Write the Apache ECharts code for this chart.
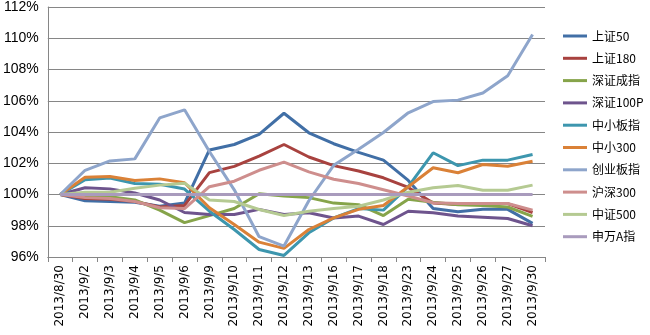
<!DOCTYPE html>
<html>
<head>
<meta charset="utf-8">
<script src="https://cdn.jsdelivr.net/npm/echarts@6/dist/echarts.min.js"></script>
<style>html,body{margin:0;padding:0;background:#fff;}#c{width:650px;height:335px;}</style>
</head>
<body>
<div id="c"></div>
<script>
const categories = ['2013/8/30','2013/9/2','2013/9/3','2013/9/4','2013/9/5','2013/9/6','2013/9/9','2013/9/10','2013/9/11','2013/9/12','2013/9/13','2013/9/16','2013/9/17','2013/9/18','2013/9/23','2013/9/24','2013/9/25','2013/9/26','2013/9/27','2013/9/30'];
const yTicks = { min: 96, max: 112, interval: 2 };
const sz50   = [100, 99.6, 99.55, 99.5, 99.25, 99.45, 102.85, 103.2, 103.85, 105.2, 103.95, 103.25, 102.7, 102.2, 100.9, 99.1, 98.9, 99.05, 99.05, 98.15];
const sz180  = [100, 99.75, 99.7, 99.55, 99.2, 99.3, 101.4, 101.8, 102.45, 103.2, 102.4, 101.85, 101.5, 101.07, 100.45, 99.45, 99.36, 99.42, 99.42, 98.85];
const szcz   = [100, 99.9, 99.85, 99.65, 99.0, 98.2, 98.65, 99.1, 100.05, 99.9, 99.8, 99.45, 99.35, 98.65, 99.7, 99.5, 99.35, 99.3, 99.2, 98.6];
const sz100p = [100, 100.43, 100.36, 100.1, 99.65, 98.85, 98.72, 98.72, 99.05, 98.72, 98.83, 98.5, 98.62, 98.08, 98.93, 98.83, 98.62, 98.55, 98.46, 98.0];
const zxb    = [100, 100.95, 101.05, 100.7, 100.65, 100.35, 98.93, 97.76, 96.48, 96.1, 97.55, 98.5, 99.1, 99.0, 100.5, 102.67, 101.85, 102.2, 102.2, 102.56];
const zx300  = [100, 101.1, 101.15, 100.9, 101.0, 100.75, 99.15, 98.08, 96.95, 96.55, 97.76, 98.5, 99.05, 99.3, 100.5, 101.71, 101.39, 101.92, 101.81, 102.13];
const cyb    = [100, 101.55, 102.15, 102.28, 104.9, 105.42, 102.75, 100.3, 97.3, 96.7, 99.6, 101.87, 102.9, 103.97, 105.23, 105.95, 106.04, 106.5, 107.6, 110.24];
const hs300  = [100, 99.8, 99.75, 99.55, 99.15, 99.1, 100.5, 100.85, 101.55, 102.07, 101.45, 100.98, 100.7, 100.3, 99.9, 99.47, 99.42, 99.42, 99.42, 99.0];
const zz500  = [100, 100.15, 100.15, 100.4, 100.6, 100.72, 99.65, 99.55, 99.04, 98.66, 98.93, 99.1, 99.25, 99.65, 100.15, 100.43, 100.58, 100.27, 100.27, 100.6];
const swa    = [100, 100, 100, 100, 100, 100, 100, 100, 100, 100, 100, 100, 100, 100, 100, 100, 100, 100, 100, 100];
const seriesNames = ['上证50','上证180','深证成指','深证100P','中小板指','中小300','创业板指','沪深300','中证500','申万A指'];
const seriesData = [sz50, sz180, szcz, sz100p, zxb, zx300, cyb, hs300, zz500, swa];
const colors = ['#416FA6','#A8423F','#86A44A','#6E548D','#3D96AE','#DA8137','#8EA5CB','#CE8E8D','#B5CA92','#A99BBD'];

const chart = echarts.init(document.getElementById('c'), null, {renderer:'canvas'});
chart.setOption({
  animation: false,
  color: colors,
  grid: { left: 47, right: 105, top: 7, bottom: 78 },
  legend: {
    orient: 'vertical', left: 563, top: 29, padding: 0,
    icon: 'rect',
    itemWidth: 24, itemHeight: 3, itemGap: 8.3,
    textStyle: { fontFamily: 'Noto Sans CJK SC', fontSize: 12, color: '#000', lineHeight: 14 },
    data: seriesNames
  },
  xAxis: {
    type: 'category', data: categories, boundaryGap: true,
    axisLine: { lineStyle: { color: '#868686', width: 1 } },
    axisTick: { show: true, interval: 0, length: 5, lineStyle: { color: '#868686' } },
    axisLabel: { interval: 0, rotate: 90, margin: 8, fontFamily: 'DejaVu Sans', fontSize: 12, color: '#000' }
  },
  yAxis: {
    type: 'value', min: yTicks.min, max: yTicks.max, interval: yTicks.interval,
    axisLine: { show: true, lineStyle: { color: '#868686', width: 1 } },
    axisTick: { show: false },
    splitLine: { lineStyle: { color: '#868686', width: 1 } },
    axisLabel: { formatter: v => v + '%', margin: 9, fontFamily: 'Liberation Sans', fontSize: 14, color: '#000' }
  },
  series: seriesNames.map((n, i) => ({
    name: n, type: 'line', data: seriesData[i],
    symbol: 'none', showSymbol: false,
    lineStyle: { width: 3, color: colors[i] },
    itemStyle: { color: colors[i] }
  }))
});
</script>
</body>
</html>
